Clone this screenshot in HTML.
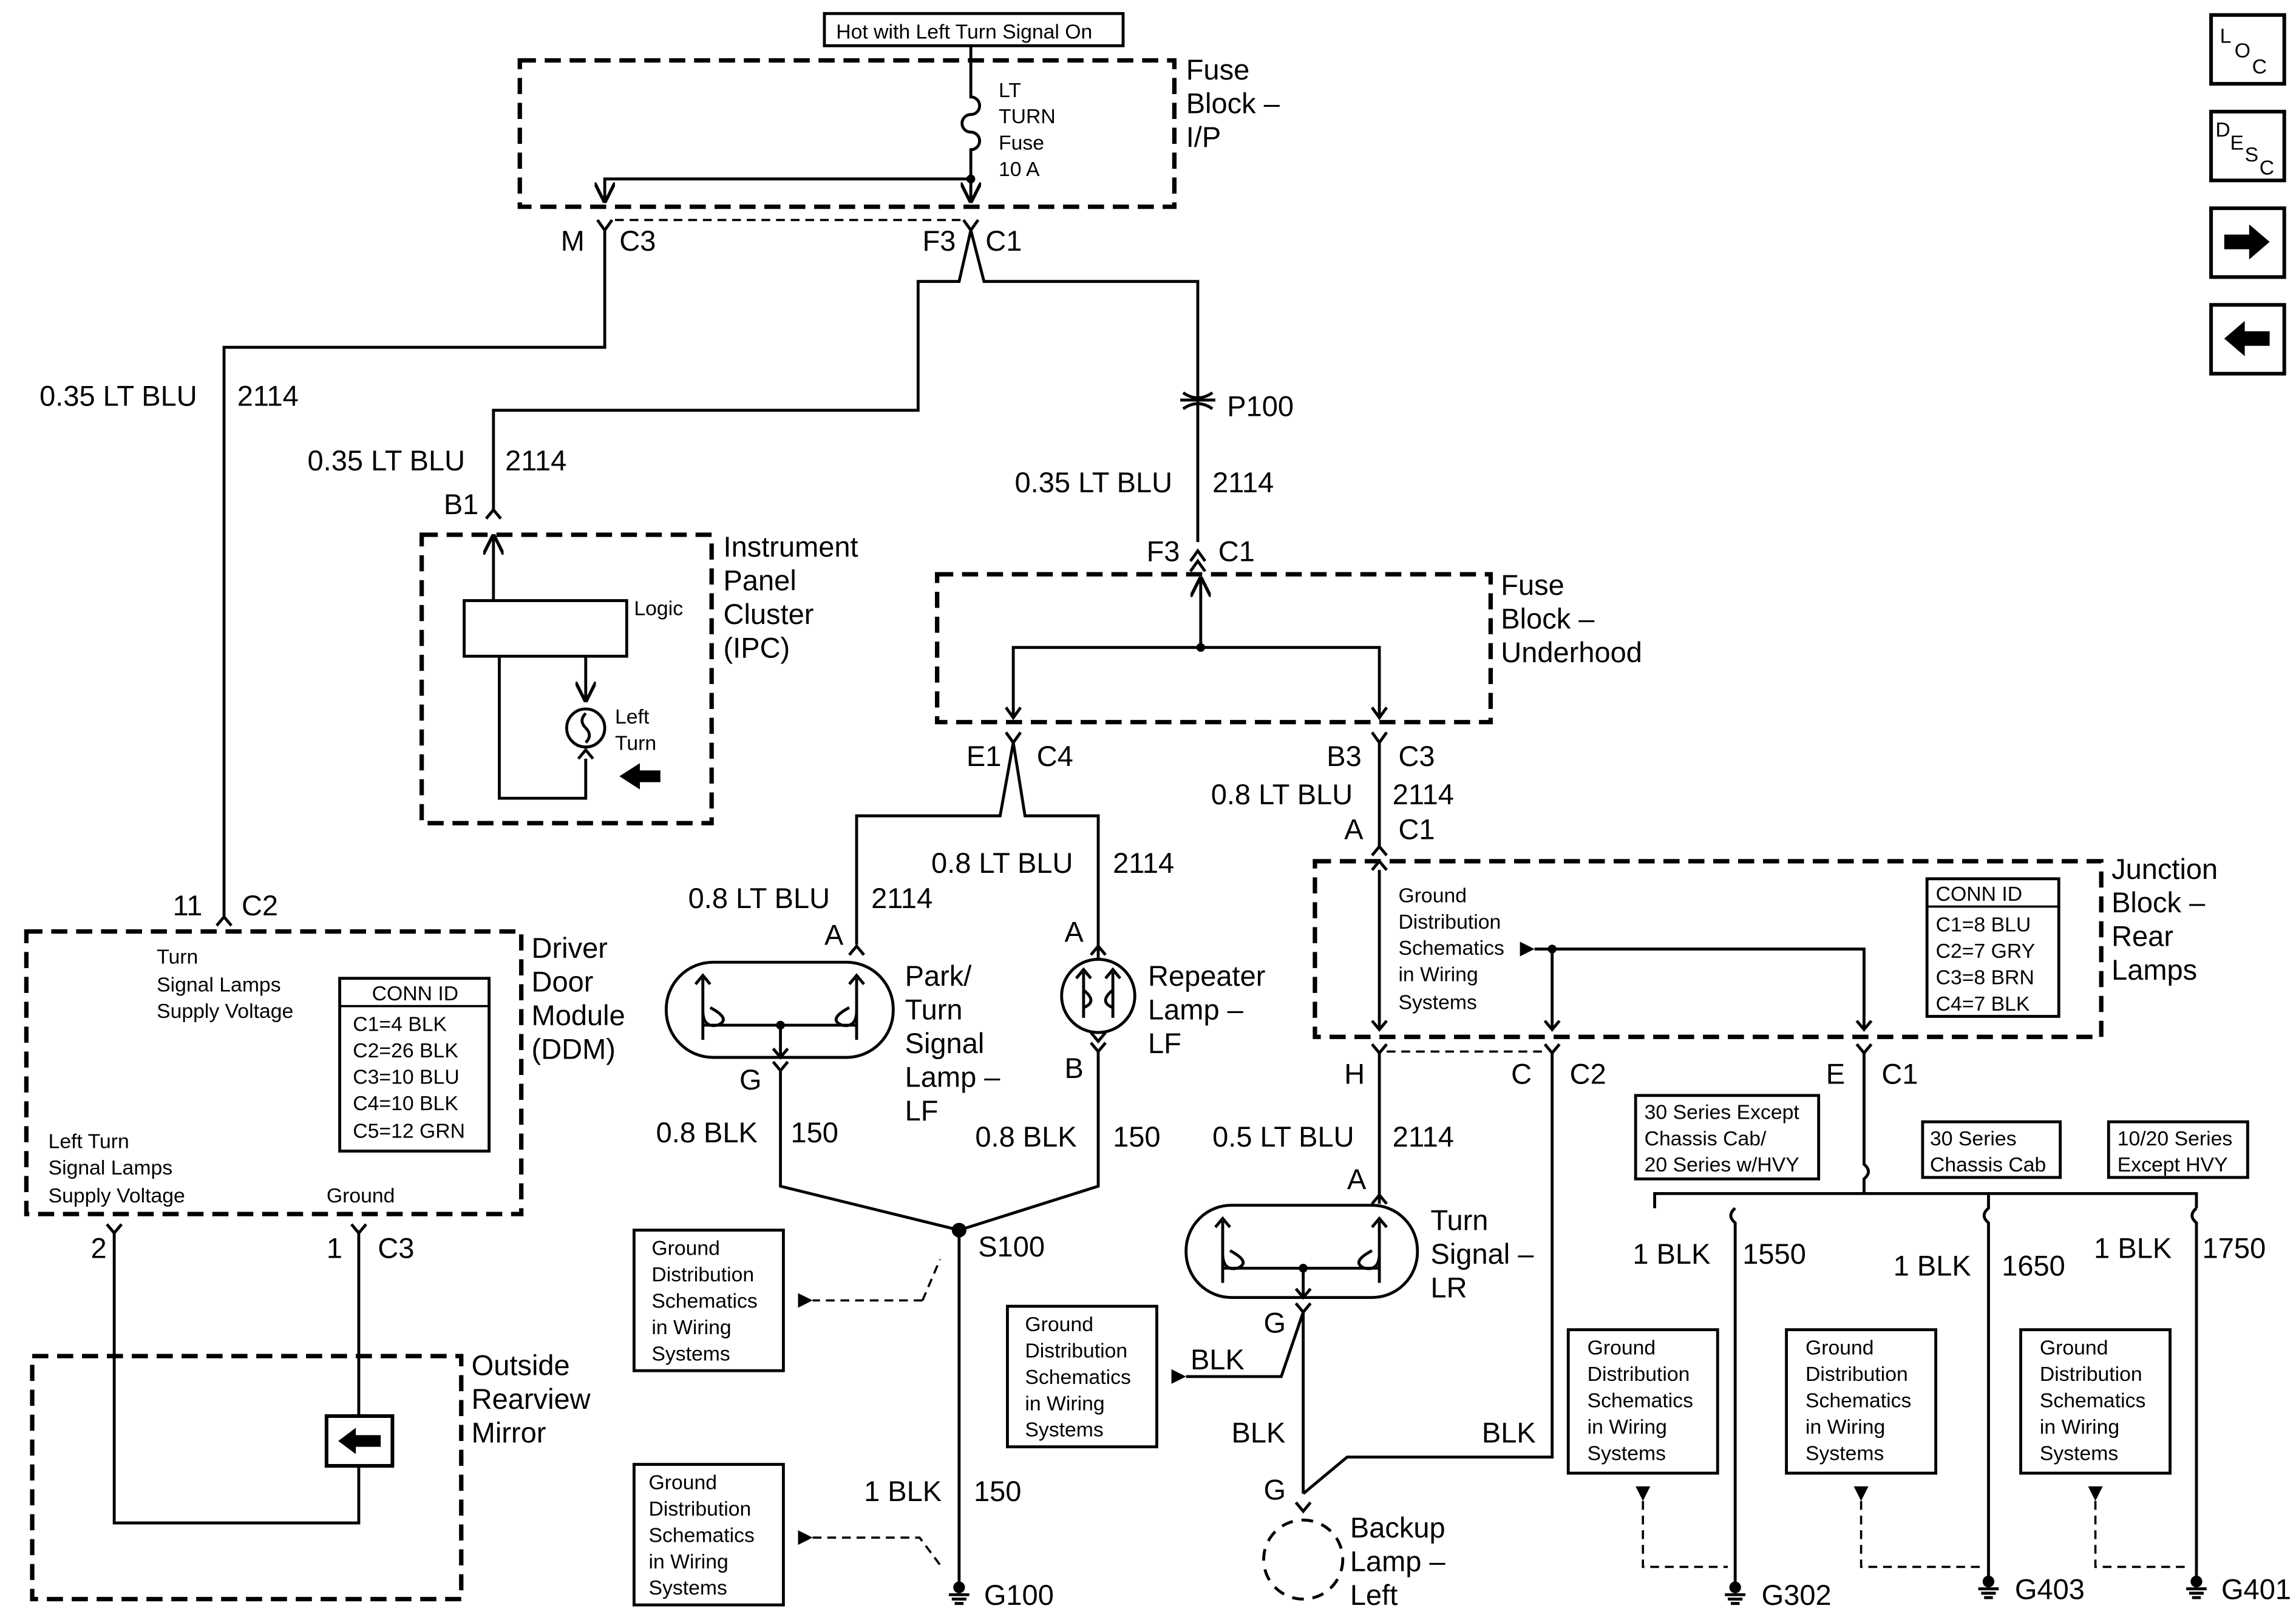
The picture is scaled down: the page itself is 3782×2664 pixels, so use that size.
<!DOCTYPE html>
<html><head><meta charset="utf-8"><style>
html,body{margin:0;padding:0;background:#fff;}
svg{display:block;}
text{font-family:"Liberation Sans",Arial,sans-serif;fill:#000;}
.b{font-size:19.5px}
.s{font-size:14px}
.l{stroke:#000;stroke-width:2;fill:none}
.d{stroke:#000;stroke-width:3;fill:none;stroke-dasharray:11,6}
.td{stroke:#000;stroke-width:1.5;fill:none;stroke-dasharray:6,4}
</style></head><body>
<svg width="3782" height="2664" viewBox="0 0 1568 1104" xmlns="http://www.w3.org/2000/svg">
<defs>
<marker id="ah" viewBox="0 0 10 10" refX="9" refY="5" markerWidth="7" markerHeight="7" orient="auto"><path d="M0,0 L10,5 L0,10" fill="none" stroke="#000" stroke-width="1.6"/></marker>
<marker id="tri" viewBox="0 0 10 10" refX="9" refY="5" markerWidth="6" markerHeight="6" orient="auto"><path d="M0,0 L10,5 L0,10z" fill="#000"/></marker>
</defs>
<rect width="1568" height="1104" fill="#fff"/>

<!-- top label -->
<rect x="563" y="9" width="204" height="22" class="l"/>
<text x="571" y="26" class="s">Hot with Left Turn Signal On</text>

<!-- Fuse Block I/P -->
<rect x="355" y="41" width="447" height="100" class="d"/>
<text x="810" y="54" class="b">Fuse</text><text x="810" y="77" class="b">Block –</text><text x="810" y="100" class="b">I/P</text>
<path class="l" d="M663,31 V66 a6,6 0 0 1 0,12 a6,6 0 0 0 0,12 a6,6 0 0 1 0,12 V137" marker-end="url(#ah)"/>
<text x="682" y="66" class="s">LT</text><text x="682" y="84" class="s">TURN</text><text x="682" y="102" class="s">Fuse</text><text x="682" y="120" class="s">10 A</text>
<path class="l" d="M663,122 H413 V137" marker-end="url(#ah)"/>
<circle cx="663" cy="122" r="3"/>
<path class="l" d="M408,150 L413,157 L418,150 M658,150 L663,157 L668,150"/>
<line x1="420" y1="150" x2="656" y2="150" class="td"/>
<text x="383" y="171" class="b">M</text><text x="423" y="171" class="b">C3</text>
<text x="630" y="171" class="b">F3</text><text x="673" y="171" class="b">C1</text>
<path class="l" d="M413,157 V237 H153 V626"/>
<path class="l" d="M663,157 L655,192 H627 V280 H337 V348"/>
<path class="l" d="M663,157 L672,192 H818 V370"/>
<text x="27" y="277" class="b">0.35 LT BLU</text><text x="162" y="277" class="b">2114</text>
<!-- P100 -->
<path class="l" d="M808,268 Q818,275 828,268 M808,279 Q818,272 828,279"/>
<line x1="806" y1="273" x2="830" y2="273" stroke="#000" stroke-width="2"/>
<text x="838" y="284" class="b">P100</text>
<text x="693" y="336" class="b">0.35 LT BLU</text><text x="828" y="336" class="b">2114</text>
<text x="783" y="383" class="b">F3</text><text x="832" y="383" class="b">C1</text>
<path class="l" d="M813,383 L818,376 L823,383 M813,390 L818,383 L823,390"/>

<text x="210" y="321" class="b">0.35 LT BLU</text><text x="345" y="321" class="b">2114</text>
<text x="303" y="351" class="b">B1</text>
<path class="l" d="M332,354 L337,348 L342,354"/>

<!-- IPC -->
<rect x="288" y="365" width="198" height="197" class="d"/>
<text x="494" y="380" class="b">Instrument</text><text x="494" y="403" class="b">Panel</text><text x="494" y="426" class="b">Cluster</text><text x="494" y="449" class="b">(IPC)</text>
<path class="l" d="M337,410 V366" marker-end="url(#ah)"/>
<rect x="317" y="410" width="111" height="38" class="l"/>
<text x="433" y="420" class="s">Logic</text>
<path class="l" d="M341,448 V545 H400 V518"/>
<path class="l" d="M400,448 V478" marker-end="url(#ah)"/>
<circle cx="400" cy="497" r="13" class="l"/>
<path class="l" d="M400,487 q-5,5 0,10 q5,5 0,10"/>
<path class="l" d="M395,518 L400,512 L405,518"/>
<text x="420" y="494" class="s">Left</text><text x="420" y="512" class="s">Turn</text>
<path d="M423,530 L437,521 V526 H451 V534 H437 V539z" fill="#000"/>

<!-- Fuse Block Underhood -->
<rect x="640" y="392" width="378" height="101" class="d"/>
<text x="1025" y="406" class="b">Fuse</text><text x="1025" y="429" class="b">Block –</text><text x="1025" y="452" class="b">Underhood</text>
<path class="l" d="M820,442 V395" marker-end="url(#ah)"/>
<circle cx="820" cy="442" r="3"/>
<path class="l" d="M692,490 V442 H942 V490" />
<path class="l" d="M687,483 L692,490 L697,483 M937,483 L942,490 L947,483 M687,500 L692,507 L697,500 M937,500 L942,507 L947,500"/>
<text x="660" y="523" class="b">E1</text><text x="708" y="523" class="b">C4</text>
<text x="906" y="523" class="b">B3</text><text x="955" y="523" class="b">C3</text>
<path class="l" d="M692,507 L683,557 H585 V645"/>
<path class="l" d="M692,507 L700,557 H750 V655"/>
<text x="636" y="596" class="b">0.8 LT BLU</text><text x="760" y="596" class="b">2114</text>
<text x="470" y="620" class="b">0.8 LT BLU</text><text x="595" y="620" class="b">2114</text>
<text x="563" y="645" class="b">A</text><text x="727" y="643" class="b">A</text>
<path class="l" d="M580,652 L585,646 L590,652 M745,652 L750,646 L755,652"/>

<!-- Park/Turn lamp -->
<rect x="455" y="657" width="155" height="65" rx="32" class="l"/>
<path class="l" d="M480,668 V710 M585,668 V710 M480,690 q0,12 10,10 q10,-4 -5,-12 M480,700 H585 M585,690 q0,12 -10,10 q-10,-4 5,-12"/>
<path class="l" d="M475,672 L480,666 L485,672 M580,672 L585,666 L590,672"/>
<circle cx="533" cy="700" r="3"/>
<path class="l" d="M533,700 V722 M528,716 L533,722 L538,716 M528,725 L533,731 L538,725"/>
<text x="618" y="673" class="b">Park/</text><text x="618" y="696" class="b">Turn</text><text x="618" y="719" class="b">Signal</text><text x="618" y="742" class="b">Lamp –</text><text x="618" y="765" class="b">LF</text>
<!-- Repeater -->
<circle cx="750" cy="680" r="25" class="l"/>
<path class="l" d="M740,664 V695 M760,664 V695 M740,676 q10,8 0,12 M760,676 q-10,8 0,12 M735,668 L740,662 L745,668 M755,668 L760,662 L765,668"/>
<path class="l" d="M745,705 L750,711 L755,705 M745,712 L750,718 L755,712"/>
<text x="784" y="673" class="b">Repeater</text><text x="784" y="696" class="b">Lamp –</text><text x="784" y="719" class="b">LF</text>
<text x="505" y="744" class="b">G</text><text x="727" y="736" class="b">B</text>
<path class="l" d="M533,731 V810 L655,840 L750,810 V718"/>
<circle cx="655" cy="840" r="5"/>
<text x="668" y="858" class="b">S100</text>
<text x="448" y="780" class="b">0.8 BLK</text><text x="540" y="780" class="b">150</text>
<text x="666" y="783" class="b">0.8 BLK</text><text x="760" y="783" class="b">150</text>
<path class="l" d="M655,840 V1080"/>
<text x="590" y="1025" class="b">1 BLK</text><text x="665" y="1025" class="b">150</text>
<g id="gnd"><circle cx="655" cy="1084" r="4"/><path class="l" d="M648,1089 H662 M650,1092 H660 M652,1095 H658"/></g>
<text x="672" y="1096" class="b">G100</text>

<rect x="433" y="840" width="102" height="96" class="l"/>
<text x="445" y="857" class="s">Ground</text><text x="445" y="875" class="s">Distribution</text><text x="445" y="893" class="s">Schematics</text><text x="445" y="911" class="s">in Wiring</text><text x="445" y="929" class="s">Systems</text>
<path class="td" d="M630,888 H555"/><path d="M545,883 L555,888 L545,893z"/>
<path class="td" d="M630,888 L642,860"/>
<rect x="433" y="1000" width="102" height="96" class="l"/>
<text x="443" y="1017" class="s">Ground</text><text x="443" y="1035" class="s">Distribution</text><text x="443" y="1053" class="s">Schematics</text><text x="443" y="1071" class="s">in Wiring</text><text x="443" y="1089" class="s">Systems</text>
<path class="td" d="M555,1050 H628 L643,1070"/><path d="M545,1045 L555,1050 L545,1055z"/>

<!-- Right branch -->
<text x="827" y="549" class="b">0.8 LT BLU</text><text x="951" y="549" class="b">2114</text>
<text x="918" y="573" class="b">A</text><text x="955" y="573" class="b">C1</text>
<path class="l" d="M942,507 V578 M937,584 L942,578 L947,584"/>
<rect x="898" y="588" width="537" height="120" class="d"/>
<text x="1442" y="600" class="b">Junction</text><text x="1442" y="623" class="b">Block –</text><text x="1442" y="646" class="b">Rear</text><text x="1442" y="669" class="b">Lamps</text>
<path class="l" d="M942,594 V703"/>
<path class="l" d="M937,594 L942,588 L947,594 M937,697 L942,703 L947,697"/>
<text x="955" y="616" class="s">Ground</text><text x="955" y="634" class="s">Distribution</text><text x="955" y="652" class="s">Schematics</text><text x="955" y="670" class="s">in Wiring</text><text x="955" y="689" class="s">Systems</text>
<path d="M1038,643 L1048,648 L1038,653z"/>
<path class="l" d="M1048,648 H1273 V703 M1060,648 V703"/>
<circle cx="1060" cy="648" r="3"/>
<path class="l" d="M1055,697 L1060,703 L1065,697 M1268,697 L1273,703 L1278,697"/>
<rect x="1316" y="600" width="90" height="94" class="l"/>
<line x1="1316" y1="619" x2="1406" y2="619" stroke="#000" stroke-width="1.5"/>
<text x="1322" y="615" class="s">CONN ID</text><text x="1322" y="636" class="s">C1=8 BLU</text><text x="1322" y="654" class="s">C2=7 GRY</text><text x="1322" y="672" class="s">C3=8 BRN</text><text x="1322" y="690" class="s">C4=7 BLK</text>
<path class="l" d="M937,713 L942,719 L947,713 M1055,713 L1060,719 L1065,713 M1268,713 L1273,719 L1278,713"/>
<line x1="947" y1="718" x2="1055" y2="718" class="td"/>
<text x="918" y="740" class="b">H</text><text x="1032" y="740" class="b">C</text><text x="1072" y="740" class="b">C2</text>
<text x="1247" y="740" class="b">E</text><text x="1285" y="740" class="b">C1</text>
<path class="l" d="M942,719 V822"/>
<text x="828" y="783" class="b">0.5 LT BLU</text><text x="951" y="783" class="b">2114</text>
<text x="920" y="812" class="b">A</text>
<path class="l" d="M937,822 L942,816 L947,822"/>
<rect x="810" y="823" width="158" height="63" rx="31" class="l"/>
<path class="l" d="M835,834 V876 M942,834 V876 M835,856 q0,12 10,10 q10,-4 -5,-12 M835,866 H942 M942,856 q0,12 -10,10 q-10,-4 5,-12 M830,838 L835,832 L840,838 M937,838 L942,832 L947,838"/>
<circle cx="890" cy="866" r="3"/>
<path class="l" d="M890,866 V886 M885,880 L890,886 L895,880 M885,890 L890,896 L895,890"/>
<text x="977" y="840" class="b">Turn</text><text x="977" y="863" class="b">Signal –</text><text x="977" y="886" class="b">LR</text>
<text x="863" y="910" class="b">G</text>
<path class="l" d="M890,896 L875,940 H810"/>
<path d="M800,935 L810,940 L800,945z"/>
<text x="813" y="935" class="b">BLK</text>
<rect x="688" y="892" width="102" height="96" class="l"/>
<text x="700" y="909" class="s">Ground</text><text x="700" y="927" class="s">Distribution</text><text x="700" y="945" class="s">Schematics</text><text x="700" y="963" class="s">in Wiring</text><text x="700" y="981" class="s">Systems</text>
<path class="l" d="M890,896 V1020"/>
<path class="l" d="M1060,719 V995 H920 L890,1020"/>
<text x="841" y="985" class="b">BLK</text><text x="1012" y="985" class="b">BLK</text>
<text x="863" y="1024" class="b">G</text>
<path class="l" d="M885,1026 L890,1032 L895,1026"/>
<circle cx="890" cy="1065" r="27" class="l" stroke-dasharray="8,6"/>
<text x="922" y="1050" class="b">Backup</text><text x="922" y="1073" class="b">Lamp –</text><text x="922" y="1096" class="b">Left</text>

<path class="l" d="M1273,719 V795 q6,5 0,10 V815 M1130,825 V815 H1500 V825"/>
<path class="l" d="M1185,825 q-6,5 0,10 V1080 M1358,815 V825 q-6,5 0,10 V1080 M1500,825 q-6,5 0,10 V1080"/>
<rect x="1117" y="748" width="125" height="57" class="l"/>
<text x="1123" y="764" class="s">30 Series Except</text><text x="1123" y="782" class="s">Chassis Cab/</text><text x="1123" y="800" class="s">20 Series w/HVY</text>
<rect x="1313" y="766" width="94" height="38" class="l"/>
<text x="1318" y="782" class="s">30 Series</text><text x="1318" y="800" class="s">Chassis Cab</text>
<rect x="1440" y="766" width="95" height="38" class="l"/>
<text x="1446" y="782" class="s">10/20 Series</text><text x="1446" y="800" class="s">Except HVY</text>
<text x="1115" y="863" class="b">1 BLK</text><text x="1190" y="863" class="b">1550</text>
<text x="1293" y="871" class="b">1 BLK</text><text x="1367" y="871" class="b">1650</text>
<text x="1430" y="859" class="b">1 BLK</text><text x="1504" y="859" class="b">1750</text>
<g>
<rect x="1071" y="908" width="102" height="98" class="l"/>
<text x="1084" y="925" class="s">Ground</text><text x="1084" y="943" class="s">Distribution</text><text x="1084" y="961" class="s">Schematics</text><text x="1084" y="979" class="s">in Wiring</text><text x="1084" y="997" class="s">Systems</text>
<rect x="1220" y="908" width="102" height="98" class="l"/>
<text x="1233" y="925" class="s">Ground</text><text x="1233" y="943" class="s">Distribution</text><text x="1233" y="961" class="s">Schematics</text><text x="1233" y="979" class="s">in Wiring</text><text x="1233" y="997" class="s">Systems</text>
<rect x="1380" y="908" width="102" height="98" class="l"/>
<text x="1393" y="925" class="s">Ground</text><text x="1393" y="943" class="s">Distribution</text><text x="1393" y="961" class="s">Schematics</text><text x="1393" y="979" class="s">in Wiring</text><text x="1393" y="997" class="s">Systems</text>
</g>
<path d="M1117,1015 H1127 L1122,1025z M1266,1015 H1276 L1271,1025z M1426,1015 H1436 L1431,1025z"/>
<path class="td" d="M1122,1025 V1070 H1180 M1271,1025 V1070 H1353 M1431,1025 V1070 H1495"/>
<circle cx="1185" cy="1084" r="4"/><path class="l" d="M1178,1089 H1192 M1180,1092 H1190 M1182,1095 H1188"/>
<circle cx="1358" cy="1080" r="4"/><path class="l" d="M1351,1085 H1365 M1353,1088 H1363 M1355,1091 H1361"/>
<circle cx="1500" cy="1080" r="4"/><path class="l" d="M1493,1085 H1507 M1495,1088 H1505 M1497,1091 H1503"/>
<text x="1203" y="1096" class="b">G302</text><text x="1376" y="1092" class="b">G403</text><text x="1517" y="1092" class="b">G401</text>

<!-- DDM -->
<text x="118" y="625" class="b">11</text><text x="165" y="625" class="b">C2</text>
<path class="l" d="M148,632 L153,626 L158,632"/>
<rect x="18" y="636" width="338" height="193" class="d"/>
<text x="363" y="654" class="b">Driver</text><text x="363" y="677" class="b">Door</text><text x="363" y="700" class="b">Module</text><text x="363" y="723" class="b">(DDM)</text>
<text x="107" y="658" class="s">Turn</text><text x="107" y="677" class="s">Signal Lamps</text><text x="107" y="695" class="s">Supply Voltage</text>
<rect x="232" y="668" width="102" height="118" class="l"/>
<line x1="232" y1="687" x2="334" y2="687" stroke="#000" stroke-width="1.5"/>
<text x="254" y="683" class="s">CONN ID</text><text x="241" y="704" class="s">C1=4 BLK</text><text x="241" y="722" class="s">C2=26 BLK</text><text x="241" y="740" class="s">C3=10 BLU</text><text x="241" y="758" class="s">C4=10 BLK</text><text x="241" y="777" class="s">C5=12 GRN</text>
<text x="33" y="784" class="s">Left Turn</text><text x="33" y="802" class="s">Signal Lamps</text><text x="33" y="821" class="s">Supply Voltage</text>
<text x="223" y="821" class="s">Ground</text>
<path class="l" d="M73,836 L78,842 L83,836 M240,836 L245,842 L250,836"/>
<text x="62" y="859" class="b">2</text><text x="223" y="859" class="b">1</text><text x="258" y="859" class="b">C3</text>
<path class="l" d="M78,842 V1040 H245 V842"/>
<rect x="223" y="967" width="45" height="34" fill="#fff" stroke="#000" stroke-width="2.5"/>
<path d="M231,984 L243,975 V980 H260 V988 H243 V993z" fill="#000"/>
<rect x="22" y="926" width="293" height="166" class="d"/>
<text x="322" y="939" class="b">Outside</text><text x="322" y="962" class="b">Rearview</text><text x="322" y="985" class="b">Mirror</text>

<!-- Right icons -->
<rect x="1510" y="10" width="50" height="47" stroke="#000" stroke-width="2.5" fill="none"/>
<text x="1516" y="29" class="s">L</text><text x="1526" y="39" class="s">O</text><text x="1538" y="50" class="s">C</text>
<rect x="1510" y="76" width="50" height="47" stroke="#000" stroke-width="2.5" fill="none"/>
<text x="1513" y="93" class="s">D</text><text x="1523" y="102" class="s">E</text><text x="1533" y="110" class="s">S</text><text x="1543" y="119" class="s">C</text>
<rect x="1510" y="142" width="50" height="47" stroke="#000" stroke-width="2.5" fill="none"/>
<path d="M1550,165 L1536,153 V160 H1519 V170 H1536 V177z" fill="#000"/>
<rect x="1510" y="208" width="50" height="47" stroke="#000" stroke-width="2.5" fill="none"/>
<path d="M1519,231 L1533,219 V226 H1550 V236 H1533 V243z" fill="#000"/>
</svg>
</body></html>
